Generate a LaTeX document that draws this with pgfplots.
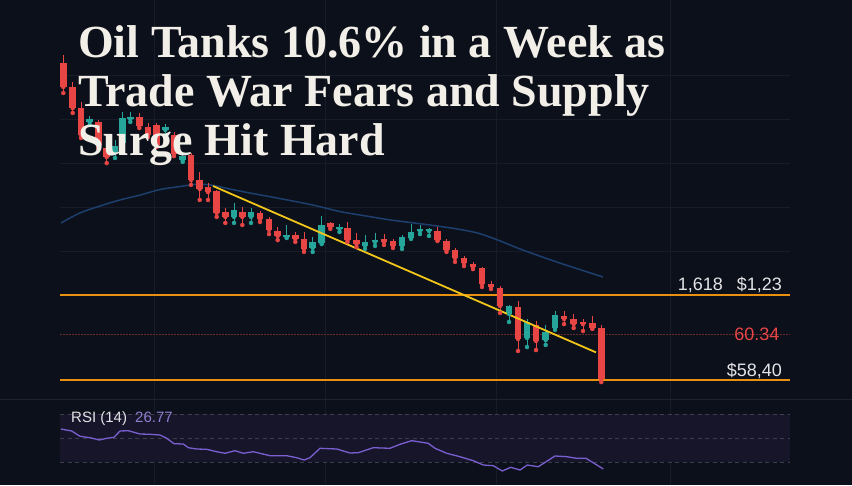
\documentclass[border=0pt]{standalone}
\usepackage{pgfplots}
\pgfplotsset{compat=1.18}
\usepackage{pgfplotstable}
\usepackage{fontspec}
\setmainfont{Liberation Sans}
\newfontfamily\titlefont{Liberation Serif}

\definecolor{bgc}{HTML}{0C101A}
\definecolor{gridc}{HTML}{171C28}
\definecolor{candred}{HTML}{E84545}
\definecolor{candgreen}{HTML}{26A69A}
\definecolor{mablue}{HTML}{1D3F6E}
\definecolor{trendyel}{HTML}{F2C51B}
\definecolor{levorange}{HTML}{E8900F}
\definecolor{dotred}{HTML}{6B2A2A}
\definecolor{titlec}{HTML}{F2EFE8}
\definecolor{labc}{HTML}{E4E4E8}
\definecolor{rsibg}{HTML}{17152A}
\definecolor{rsidash}{HTML}{3C3E4B}
\definecolor{rsiline}{HTML}{7A5FD0}
\definecolor{rsitxt}{HTML}{8F80D0}
\definecolor{sepc}{HTML}{1E2230}

% red candles: x open high low close
\pgfplotstableread{
x o h l c
63.3 72.06 72.41 70.77 71.03
72.7 71.03 71.24 69.91 70.12
81.0 70.12 70.38 68.83 68.96
98.3 69.52 69.61 68.40 68.53
106.7 68.40 68.53 67.75 68.01
139.3 69.74 69.91 69.26 69.35
148.0 69.30 69.48 68.87 68.96
156.7 69.39 69.48 68.44 68.53
174.0 68.96 69.09 68.05 68.14
191.0 68.10 68.18 66.81 67.02
199.7 67.02 67.37 66.16 66.63
208.0 66.72 66.89 66.16 66.50
216.7 66.55 66.59 65.43 65.60
225.3 65.64 65.81 65.17 65.43
242.3 65.64 65.86 65.08 65.43
260.0 65.60 65.68 65.21 65.34
269.0 65.34 65.43 64.69 64.87
277.7 64.82 64.99 64.43 64.61
295.3 64.65 64.78 64.35 64.48
304.0 64.48 64.78 63.92 64.05
330.3 65.17 65.21 64.91 64.99
347.5 64.95 65.21 64.35 64.43
356.5 64.43 64.74 64.13 64.26
384.0 64.48 64.69 64.22 64.35
393.0 64.39 64.48 64.09 64.18
437.5 64.82 64.99 64.39 64.43
446.5 64.39 64.48 63.92 64.00
455.0 64.00 64.09 63.49 63.66
464.0 63.66 63.75 63.31 63.44
473.0 63.40 63.49 63.18 63.27
482.0 63.23 63.27 62.41 62.54
491.0 62.54 62.67 62.32 62.41
500.0 62.37 62.45 61.29 61.59
518.0 61.55 61.81 59.65 60.17
536.0 60.77 60.94 59.69 60.08
564.0 61.16 61.37 60.81 61.03
573.7 61.03 61.25 60.64 60.81
583.0 60.90 61.03 60.51 60.81
592.3 60.86 61.16 60.60 60.64
601.3 60.64 60.77 58.31 58.44
}\redtab

% green candles: x open high low close
\pgfplotstableread{
x o h l c
89.7 69.52 69.78 69.39 69.65
115.0 68.23 68.74 67.97 68.49
122.7 68.61 69.95 68.53 69.69
130.3 69.65 69.95 69.52 69.74
165.3 69.18 69.43 68.96 69.30
182.7 67.88 68.18 67.80 68.05
234.0 65.43 66.03 65.17 65.73
251.0 65.43 65.81 65.17 65.64
286.7 64.56 65.08 64.52 64.65
312.7 64.09 64.56 63.92 64.35
321.7 64.30 65.47 64.26 65.08
339.5 64.91 65.12 64.78 64.99
365.0 64.18 64.65 64.05 64.35
375.0 64.35 64.74 64.18 64.43
402.0 64.18 64.65 64.05 64.56
411.0 64.52 65.12 64.48 64.78
420.0 64.82 65.08 64.69 64.91
429.0 64.82 64.95 64.61 64.91
509.0 61.25 61.63 60.90 61.59
527.0 60.21 61.03 59.82 60.90
545.7 60.12 60.77 59.91 60.47
555.0 60.64 61.37 60.56 61.20
}\greentab

% moving average
\pgfplotstableread{
x y
61 65.17
80 65.60
100 65.90
120 66.16
140 66.37
160 66.61
180 66.74
195 66.83
210 66.81
230 66.63
250 66.46
280 66.22
313 65.94
340 65.66
363 65.49
390 65.30
410 65.19
430 65.08
457 64.91
477 64.74
495 64.48
523 64.00
560 63.44
603 62.84
}\matab

% RSI (14)
\pgfplotstableread{
x r
61 57.5
71.7 55.83
80 51.42
90 50.25
99.3 48.33
106.7 49.75
114 50.58
120 55.83
128.3 56.08
140 53.33
150 53.08
160 52.5
166.7 49.75
174 45.25
183.3 45.0
188.3 41.92
196.7 40.83
206.7 40.58
216.7 38.58
225 37.25
235 39.42
243.3 37.25
253.3 38.58
270 35.25
286.7 35.25
296.7 33.58
304 31.67
310 33.58
320 41.42
336.7 40.83
350 37.5
358.3 37.75
373.3 41.92
390 41.42
400 44.75
411.7 47.75
428.3 45.58
435 41.42
446.7 37.25
460 34.42
473.3 31.08
483.3 27.5
493.3 26.92
502.3 22.5
510.7 25.58
520 23.33
527.3 27.5
538.3 26.08
555 35.0
566.7 34.42
576.7 33.08
586 33.08
603.3 24.17
}\rsitab

\begin{document}
\begin{tikzpicture}
\fill[bgc] (0,0) rectangle (852pt,485pt);

\begin{axis}[at={(0,0)}, anchor=south west, scale only axis,
  width=852pt, height=485pt,
  xmin=0, xmax=852, ymin=53.874, ymax=74.779,
  axis line style={draw=none}, ticks=none]

% grid
\addplot[gridc, line width=0.8pt] coordinates {(60,71.55) (790,71.55)};
\addplot[gridc, line width=0.8pt] coordinates {(60,69.65) (790,69.65)};
\addplot[gridc, line width=0.8pt] coordinates {(60,67.75) (790,67.75)};
\addplot[gridc, line width=0.8pt] coordinates {(60,65.86) (790,65.86)};
\addplot[gridc, line width=0.8pt] coordinates {(60,63.96) (790,63.96)};
\addplot[gridc, line width=0.8pt] coordinates {(154,53.874) (154,74.779)};
\addplot[gridc, line width=0.8pt] coordinates {(325,53.874) (325,74.779)};
\addplot[gridc, line width=0.8pt] coordinates {(496,53.874) (496,74.779)};
\addplot[gridc, line width=0.8pt] coordinates {(670,53.874) (670,74.779)};

% levels
\addplot[dotred, line width=1pt, dash pattern=on 1.5pt off 1.5pt] coordinates {(60,60.34) (790,60.34)};
\addplot[levorange, line width=2pt] coordinates {(60,62.06) (790,62.06)};
\addplot[levorange, line width=2pt] coordinates {(60,58.40) (790,58.40)};

% moving average
\addplot[mablue, line width=1.5pt, smooth] table[x=x, y=y] {\matab};

% wicks
\addplot[candred, only marks, mark=none, error bars/.cd, y dir=plus, y explicit, error mark=none,
  error bar style={line width=1pt, draw=candred}]
  table[x=x, y=l, y error expr=\thisrow{h}-\thisrow{l}] {\redtab};
\addplot[candgreen, only marks, mark=none, error bars/.cd, y dir=plus, y explicit, error mark=none,
  error bar style={line width=1pt, draw=candgreen}]
  table[x=x, y=l, y error expr=\thisrow{h}-\thisrow{l}] {\greentab};
% bodies
\addplot[candred, only marks, mark=none, error bars/.cd, y dir=plus, y explicit, error mark=none,
  error bar style={line width=6.5pt, draw=candred}]
  table[x=x, y=c, y error expr=\thisrow{o}-\thisrow{c}] {\redtab};
\addplot[candgreen, only marks, mark=none, error bars/.cd, y dir=plus, y explicit, error mark=none,
  error bar style={line width=6.5pt, draw=candgreen}]
  table[x=x, y=o, y error expr=\thisrow{c}-\thisrow{o}] {\greentab};

% trend line
\addplot[trendyel, line width=1.8pt] coordinates {(213,66.76) (596,59.59)};
\end{axis}

\begin{axis}[at={(0,0)}, anchor=south west, scale only axis,
  width=852pt, height=90pt,
  xmin=0, xmax=852, ymin=10.833, ymax=85.833,
  axis line style={draw=none}, ticks=none]
\addplot[sepc, line width=1pt] coordinates {(0,81.67) (852,81.67)};
\addplot[fill=rsibg, draw=none] coordinates {(60,30) (790,30) (790,70) (60,70)} -- cycle;
\addplot[rsidash, line width=0.8pt, dash pattern=on 4pt off 3.5pt] coordinates {(60,70) (790,70)};
\addplot[rsidash, line width=0.8pt, dash pattern=on 4pt off 3.5pt] coordinates {(60,50) (790,50)};
\addplot[rsidash, line width=0.8pt, dash pattern=on 4pt off 3.5pt] coordinates {(60,30) (790,30)};
\addplot[rsiline, line width=1.3pt] table[x=x, y=r] {\rsitab};
\end{axis}

% title
\begin{scope}[every node/.style={inner sep=0pt, anchor=base west, text=titlec,
  font=\titlefont\bfseries\fontsize{46}{50}\selectfont}]
\node at (78pt,427pt) {Oil Tanks 10.6\% in a Week as};
\node at (78pt,378pt) {Trade War Fears and Supply};
\node at (78pt,329pt) {Surge Hit Hard};
\end{scope}

% right labels
\begin{scope}[every node/.style={inner sep=0pt, anchor=base east,
  font=\fontsize{18}{20}\selectfont}]
\node[text=labc] at (723pt,194.5pt) {1,618};
\node[text=labc] at (782pt,194.5pt) {\$1,23};
\node[text=candred] at (779.5pt,144pt) {60.34};
\node[text=labc] at (782pt,108.5pt) {\$58,40};
\end{scope}

% RSI labels
\node[inner sep=0pt, anchor=base west, text=labc, font=\fontsize{15}{17}\selectfont] at (71pt,62pt) {RSI (14)};
\node[inner sep=0pt, anchor=base west, text=rsitxt, font=\fontsize{15}{17}\selectfont] at (135pt,62pt) {26.77};
\end{tikzpicture}
\end{document}
